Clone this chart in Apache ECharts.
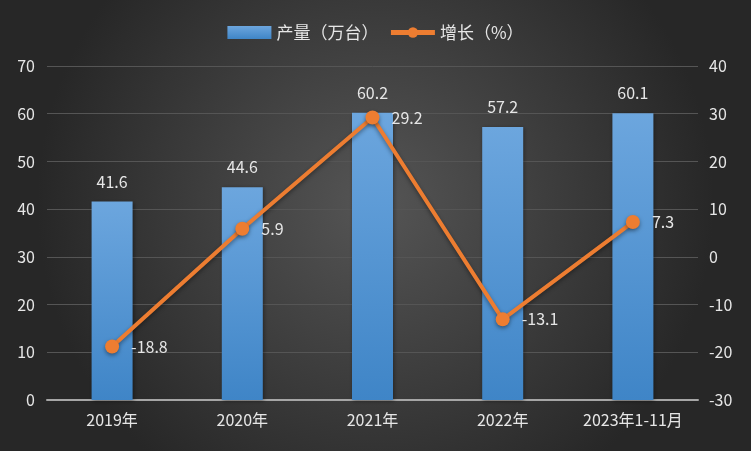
<!DOCTYPE html>
<html><head><meta charset="utf-8">
<script src="https://cdn.jsdelivr.net/npm/echarts@6/dist/echarts.min.js"></script>
<style>html,body{margin:0;padding:0;background:#333;}#c{width:751px;height:451px;}</style>
</head><body><div id="c"></div>
<script>
var categories = ['2019年','2020年','2021年','2022年','2023年1-11月'];
var production = [41.6, 44.6, 60.2, 57.2, 60.1];
var growth = [-18.8, 5.9, 29.2, -13.1, 7.3];
var leftTicks = [0, 70, 10];
var rightTicks = [-30, 40, 10];

var font = '"Microsoft YaHei","Noto Sans CJK SC","Noto Sans",sans-serif';
var chart = echarts.init(document.getElementById('c'));
chart.setOption({
  backgroundColor: {type:'radial', x:0.5, y:0.45, r:0.75, colorStops:[{offset:0,color:'#555555'},{offset:1,color:'#272727'}]},
  textStyle:{fontFamily:font},
  legend:{
    top:19, left:'center', itemGap:10, itemWidth:44, itemHeight:13,
    textStyle:{color:'#e6e6e6', fontSize:17, fontFamily:font},
    data:[{name:'产量（万台）', icon:'rect'},{name:'增长（%）', lineStyle:{width:5}}]
  },
  grid:{left:47, right:53, top:66, bottom:51},
  xAxis:{
    type:'category', data:categories,
    axisLine:{lineStyle:{color:'#a6a6a6', width:2}},
    axisTick:{show:false},
    axisLabel:{color:'#e6e6e6', fontSize:16, margin:12, fontFamily:font}
  },
  yAxis:[{
    type:'value', min:leftTicks[0], max:leftTicks[1], interval:leftTicks[2],
    axisLine:{show:false}, axisTick:{show:false},
    splitLine:{lineStyle:{color:'#555555', width:1}},
    axisLabel:{color:'#e6e6e6', fontSize:16, margin:12, fontFamily:font}
  },{
    type:'value', min:rightTicks[0], max:rightTicks[1], interval:rightTicks[2],
    axisLine:{show:false}, axisTick:{show:false}, splitLine:{show:false},
    axisLabel:{color:'#e6e6e6', fontSize:16, margin:11, fontFamily:font}
  }],
  series:[{
    name:'产量（万台）', type:'bar', data:production, barWidth:41,
    itemStyle:{color:{type:'linear',x:0,y:0,x2:0,y2:1,colorStops:[{offset:0,color:'#6ca6de'},{offset:1,color:'#3f85c7'}]},
      shadowColor:'rgba(0,0,0,0.4)', shadowBlur:4, shadowOffsetX:1, shadowOffsetY:1},
    label:{show:true, position:'top', distance:12, color:'#e6e6e6', fontSize:16, fontFamily:font}
  },{
    name:'增长（%）', type:'line', yAxisIndex:1, data:growth,
    symbol:'circle', symbolSize:14,
    lineStyle:{color:'#ed7d31', width:4, shadowColor:'rgba(0,0,0,0.4)', shadowBlur:4, shadowOffsetY:2},
    itemStyle:{color:'#ed7d31', shadowColor:'rgba(0,0,0,0.4)', shadowBlur:4, shadowOffsetY:2},
    label:{show:true, position:'right', distance:12, color:'#e6e6e6', fontSize:16, fontFamily:font},
    z:5
  }]
});
</script></body></html>
